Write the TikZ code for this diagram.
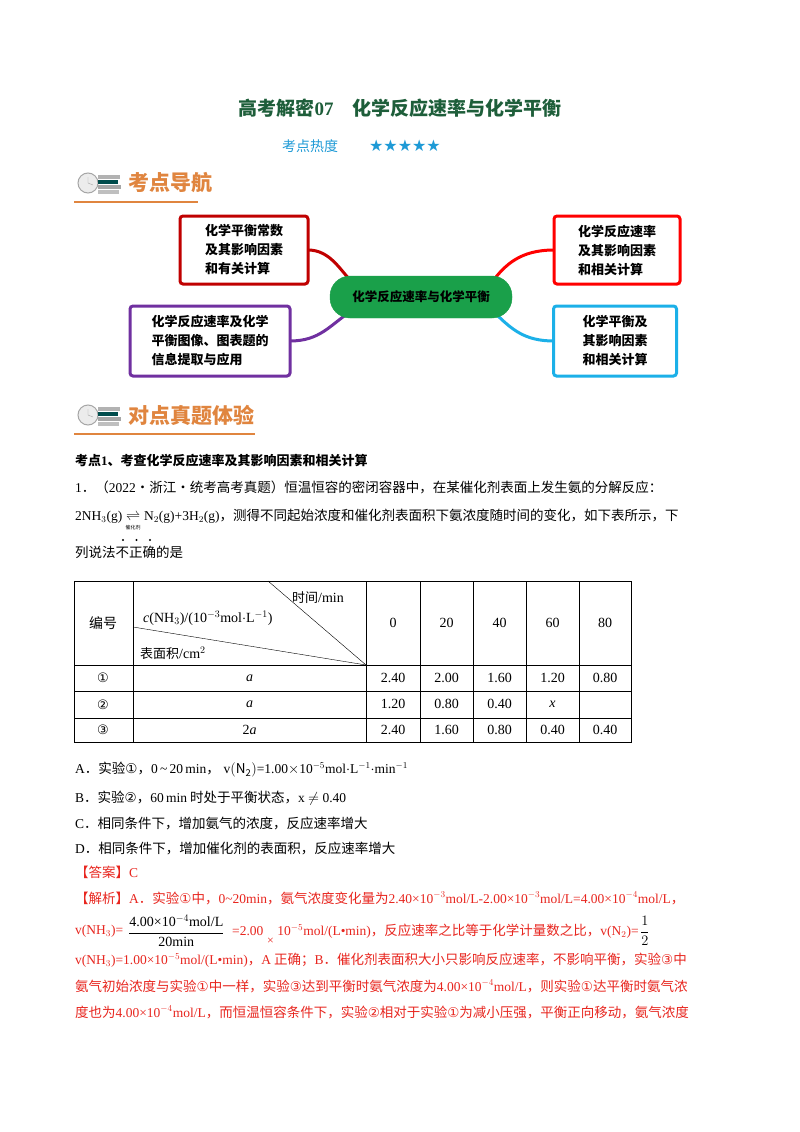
\documentclass[tikz,border=0pt]{standalone}
\usepackage{amsmath}
\usepackage{fontspec}
\setmainfont{Noto Sans CJK SC}
\newfontfamily\cjk{Noto Sans CJK SC}
\newfontfamily\tnr{Liberation Serif}
\newfontfamily\djv{DejaVu Sans}
\definecolor{ttl}{HTML}{1E5E3A}
\definecolor{blu}{HTML}{1E9AD6}
\definecolor{org}{HTML}{E0853F}
\definecolor{rd}{HTML}{E8261F}
\definecolor{dred}{HTML}{C00000}
\definecolor{pur}{HTML}{7030A0}
\definecolor{cyn}{HTML}{1CB0E8}
\definecolor{grn}{HTML}{1AA04A}
\tikzset{
 txt/.style={anchor=west,inner sep=0pt,font=\fontsize{13.5}{15}\selectfont},
 rtxt/.style={txt,text=rd},
 mbox/.style={draw,line width=3pt,rounded corners=3pt,fill=white,align=left,font=\fontsize{13}{19}\selectfont\bfseries,inner sep=0pt},
 link/.style={line width=3pt},
 hdr/.style={anchor=west,inner sep=0pt,text=org,font=\fontsize{21}{24}\selectfont\bfseries},
 cell/.style={inner sep=0pt,font=\tnr\fontsize{14}{16}\selectfont},
}
\begin{document}
\begin{tikzpicture}[x=1pt,y=-1pt]
\useasboundingbox (0,0) rectangle (800,1132);
\fill[white] (0,0) rectangle (800,1132);
% title
\node[inner sep=0pt,text=ttl,font=\fontsize{19}{22}\selectfont\bfseries] (title) at (400,108) {高考解密{\tnr\bfseries 07}\quad 化学反应速率与化学平衡};
\node[inner sep=0pt,text=blu,font=\fontsize{14}{16}\selectfont] (heat) at (310,146) {考点热度};
\node[inner sep=0pt,text=blu,font=\djv\fontsize{16}{18}\selectfont] (stars) at (405,146) {★★★★★};
% headers
\foreach \yy/\w in {183/198, 415/255}{
  \fill[gray!15] (88,\yy) circle (10);
  \draw[gray!70,line width=1pt] (88,\yy) circle (10);
  \draw[gray!70] (88,\yy) -- (88,\yy-6) (88,\yy) -- (93,\yy+2);
  \fill[gray!60] (98,\yy-8) rectangle (120,\yy-4);
  \fill[teal!60!black] (98,\yy-3) rectangle (118,\yy+1);
  \fill[gray!70] (98,\yy+2) rectangle (121,\yy+6);
  \fill[gray!50] (98,\yy+7) rectangle (119,\yy+11);
  \draw[org,line width=1.3pt] (74,\yy+19) -- (\w,\yy+19);
}
\node[hdr] (h1) at (128,183) {考点导航};
\node[hdr] (h2) at (128,415) {对点真题体验};
% mind map
\coordinate (c) at (421,297);
\coordinate (tl) at (244,250);
\coordinate (tr) at (617,250);
\coordinate (bl) at (210,341);
\coordinate (br) at (615,341);
\draw[link,dred] (308,250) .. controls (330,250) and (340,270) .. (352,282);
\draw[link,red] (554,250) .. controls (520,250) and (505,265) .. (492,282);
\draw[link,pur] (290,341) .. controls (320,341) and (330,325) .. (350,312);
\draw[link,cyn] (554,341) .. controls (525,341) and (512,330) .. (494,312);
\node[draw=grn,fill=grn,rounded corners=20pt,minimum width=182pt,minimum height=42pt,inner sep=0pt,font=\fontsize{12.5}{14}\selectfont\bfseries] (cn0) at (c) {化学反应速率与化学平衡};
\node[mbox,draw=dred,minimum width=128pt,minimum height=68pt] (tlb) at (tl) {化学平衡常数\\及其影响因素\\和有关计算};
\node[mbox,draw=red,minimum width=126pt,minimum height=68pt] (trb) at (tr) {化学反应速率\\及其影响因素\\和相关计算};
\node[mbox,draw=pur,minimum width=160pt,minimum height=70pt] (blb) at (bl) {化学反应速率及化学\\平衡图像、图表题的\\信息提取与应用};
\node[mbox,draw=cyn,minimum width=123pt,minimum height=70pt] (brb) at (br) {化学平衡及\\其影响因素\\和相关计算};
% question
\node[txt,font=\fontsize{13}{15}\selectfont\bfseries] (k1) at (75,461) {考点{\tnr\bfseries 1}、考查化学反应速率及其影响因素和相关计算};
\node[txt] (q1) at (75,487) {{\tnr 1}．（{\tnr 2022}•浙江•统考高考真题）恒温恒容的密闭容器中，在某催化剂表面上发生氨的分解反应：};
\node[txt] (q2) at (75,520) {{\tnr 2NH$_3$(g) $\underset{\text{\cjk\fontsize{5}{5}\selectfont 催化剂}}{\rightleftharpoons}$ N$_2$(g)+3H$_2$(g)}，测得不同起始浓度和催化剂表面积下氨浓度随时间的变化，如下表所示，下};
\node[txt] (q3) at (75,552) {列说法不正确的是};
\foreach \dx in {0,1,2} \fill (123+13.5*\dx,540) circle (1.1);
% table
\draw[line width=0.8pt] (74,581) rectangle (631,742);
\foreach \xx in {133,366,420,473,526,579} \draw (\xx,581) -- (\xx,742);
\foreach \yy in {665,691,718} \draw (74,\yy) -- (631,\yy);
\draw (268,581) -- (366,665);
\draw (133,627) -- (366,665);
\node[cell,font=\cjk\fontsize{14}{16}\selectfont] (bh) at (103,623) {编号};
\node[cell] (tm) at (318,598) {{\cjk\fontsize{13}{15}\selectfont 时间}/min};
\node[cell,anchor=west] (cnh) at (143,618) {\textit{c}(NH$_3$)/(10$^{-3}$mol$\cdot$L$^{-1}$)};
\node[cell,anchor=west] (sa) at (140,653) {{\cjk\fontsize{13}{15}\selectfont 表面积}/cm$^2$};
\foreach \v/\xx in {0/393,20/446.5,40/499.5,60/552.5,80/605} \node[cell] at (\xx,623) {\v};
\node[cell,font=\djv\fontsize{13}{15}\selectfont] at (103,678) {①};
\node[cell,font=\djv\fontsize{13}{15}\selectfont] at (103,704.5) {②};
\node[cell,font=\djv\fontsize{13}{15}\selectfont] at (103,730) {③};
\node[cell] at (249.5,678) {\textit{a}};
\node[cell] at (249.5,704.5) {\textit{a}};
\node[cell] at (249.5,730) {2\textit{a}};
\foreach \a/\b/\c/\d/\e [count=\i] in {2.40/2.00/1.60/1.20/0.80, 1.20/0.80/0.40/\textit{x}/{}, 2.40/1.60/0.80/0.40/0.40}{
  \pgfmathsetmacro{\yy}{651.5+26.3*\i}
  \node[cell] at (393,\yy) {\a}; \node[cell] at (446.5,\yy) {\b};
  \node[cell] at (499.5,\yy) {\c}; \node[cell] at (552.5,\yy) {\d};
  \node[cell] at (605,\yy) {\e};
}
% options
\node[txt] (oa) at (75,770) {{\tnr A}．实验{\djv ①}，{\tnr 0\,\textasciitilde\,20\,min}，\;{\tnr v$\left(\mathrm{N_2}\right)$=1.00$\times$10$^{-5}$mol$\cdot$L$^{-1}\cdot$min$^{-1}$}};
\node[txt] (ob) at (75,798) {{\tnr B}．实验{\djv ②}，{\tnr 60\,min} 时处于平衡状态，{\tnr x $\neq$ 0.40}};
\node[txt] (oc) at (75,823) {{\tnr C}．相同条件下，增加氨气的浓度，反应速率增大};
\node[txt] (od) at (75,848) {{\tnr D}．相同条件下，增加催化剂的表面积，反应速率增大};
\node[rtxt] (ans) at (75,872) {【答案】{\tnr C}};
\node[rtxt] (ex1) at (75,898) {【解析】{\tnr A}．实验{\djv ①}中，{\tnr 0\textasciitilde20min}，氨气浓度变化量为{\tnr 2.40×10$^{-3}$mol/L-2.00×10$^{-3}$mol/L=4.00×10$^{-4}$mol/L}，};
\node[rtxt] (ex2a) at (75,931) {{\tnr v(NH$_3$)=}};
\node[txt,font=\tnr\fontsize{14}{16}\selectfont] (frac) at (128,931) {$\dfrac{\text{4.00×10$^{-4}$mol/L}}{\text{20min}}$};
\node[rtxt] (ex2b) at (232,931) {{\tnr =2.00}\hspace{14pt}{\tnr 10$^{-5}$mol/(L•min)}，反应速率之比等于化学计量数之比，{\tnr v(N$_2$)=}};
\node[rtxt,font=\tnr\fontsize{12}{14}\selectfont] (xx) at (267,941) {×};
\node[txt,font=\tnr\fontsize{14}{16}\selectfont] (half) at (640,931) {$\dfrac{1}{2}$};
\node[rtxt] (ex3) at (75,960) {{\tnr v(NH$_3$)=1.00×10$^{-5}$mol/(L•min)}，{\tnr A} 正确；{\tnr B}．催化剂表面积大小只影响反应速率，不影响平衡，实验{\djv ③}中};
\node[rtxt] (ex4) at (75,986) {氨气初始浓度与实验{\djv ①}中一样，实验{\djv ③}达到平衡时氨气浓度为{\tnr 4.00×10$^{-4}$mol/L}，则实验{\djv ①}达平衡时氨气浓};
\node[rtxt] (ex5) at (75,1012) {度也为{\tnr 4.00×10$^{-4}$mol/L}，而恒温恒容条件下，实验{\djv ②}相对于实验{\djv ①}为减小压强，平衡正向移动，氨气浓度};
\end{tikzpicture}
\end{document}
